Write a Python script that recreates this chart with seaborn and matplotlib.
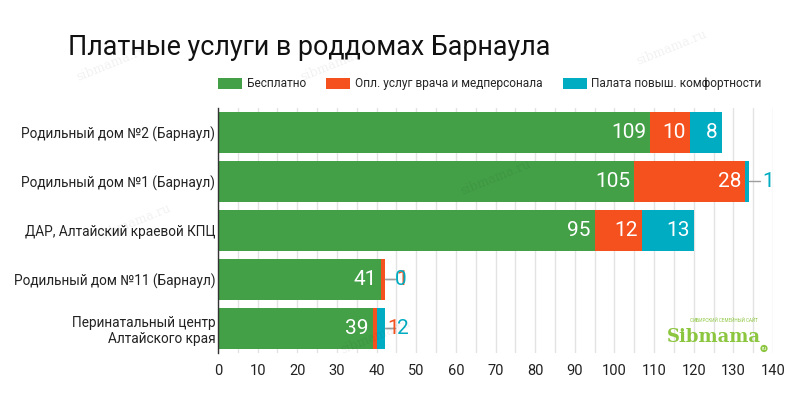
import matplotlib
matplotlib.use("Agg")
import matplotlib.pyplot as plt
from matplotlib.patches import Patch
from matplotlib.ticker import MultipleLocator
import numpy as np
import pandas as pd
import seaborn as sns

CATEGORIES = [
    "Родильный дом №2 (Барнаул)",
    "Родильный дом №1 (Барнаул)",
    "ДАР, Алтайский краевой КПЦ",
    "Родильный дом №11 (Барнаул)",
    "Перинатальный центр\nАлтайского края",
]
FREE = [109, 105, 95, 41, 39]
DOCTOR = [10, 28, 12, 1, 1]
COMFORT = [8, 1, 13, 0, 2]
SERIES = ["Бесплатно", "Опл. услуг врача и медперсонала", "Палата повыш. комфортности"]
COLORS = ["#43a047", "#f4511e", "#00acc1"]

# where the labels of tiny segments sit, in units past the bar end
OUTSIDE_OFFSET = {(1, 2): 3.2, (3, 1): 3.0, (3, 2): 2.6, (4, 1): 0.6, (4, 2): 3.1}

sns.set_theme(style="white")
plt.rcParams["font.family"] = ["Roboto", "DejaVu Sans"]

df = pd.DataFrame({"cat": CATEGORIES, "s0": FREE, "s1": DOCTOR, "s2": COMFORT})
df["c0"] = df["s0"]
df["c1"] = df["c0"] + df["s1"]
df["c2"] = df["c1"] + df["s2"]

fig = plt.figure(figsize=(8, 3.96), dpi=100)
ax = fig.add_axes([0.2725, 0.1086, 0.6938, 0.6187])

for i in [2, 1, 0]:
    sns.barplot(data=df, x=f"c{i}", y="cat", color=COLORS[i], width=0.82,
                saturation=1, ax=ax, zorder=2, linewidth=0)

ax.set_xlim(0, 140)
ax.set_ylim(4.5, -0.5)
ax.xaxis.set_major_locator(MultipleLocator(10))
ax.xaxis.set_minor_locator(MultipleLocator(5))
ax.grid(axis="x", which="both", color="#e3e3e3", linewidth=1, zorder=0)
ax.set_axisbelow(True)
ax.set_xlabel("")
ax.set_ylabel("")
for side in ["top", "right", "bottom"]:
    ax.spines[side].set_visible(False)
ax.spines["left"].set_color("#333333")
ax.spines["left"].set_linewidth(1)
ax.tick_params(axis="x", which="both", length=4, color="#e3e3e3", labelsize=10.5,
               labelcolor="#222222", pad=4)
ax.tick_params(axis="y", length=0, labelsize=9.8, labelcolor="#222222", pad=2)

for r in range(len(CATEGORIES)):
    end = df.loc[r, "c2"]
    for i in range(3):
        val = df.loc[r, f"s{i}"]
        right = df.loc[r, f"c{i}"]
        if (r, i) in OUTSIDE_OFFSET:
            xt = end + OUTSIDE_OFFSET[(r, i)]
            ax.plot([end, end + 2.6], [r, r], color="#9e9e9e", lw=1, zorder=3)
            ax.text(xt, r, str(val), color=COLORS[i], fontsize=15, va="center",
                    ha="left", zorder=4)
        else:
            ax.text(right - 1.0, r, str(val), color="white", fontsize=15,
                    va="center", ha="right", zorder=4)

fig.text(0.085, 0.88, "Платные услуги в роддомах Барнаула", fontsize=19.4,
         color="#111111", va="center", ha="left")

handles = [Patch(facecolor=c, edgecolor="none") for c in COLORS]
fig.legend(handles, SERIES, loc="center left", bbox_to_anchor=(0.2725, 0.788),
           ncol=3, frameon=False, fontsize=8.6, handlelength=2.0, handleheight=1.0,
           handletextpad=0.4, columnspacing=1.7, borderaxespad=0, borderpad=0)

# faint watermarks
for wx, wy in [(0.14, 0.84), (0.42, 0.84), (0.17, 0.44), (0.62, 0.55), (0.47, 0.15),
               (0.84, 0.88)]:
    fig.text(wx, wy, "sibmama.ru", fontsize=9, color="#000000", alpha=0.06,
             rotation=22, family="DejaVu Serif", ha="center", va="center")

# site logo
fig.text(0.833, 0.15, "Sibmama", fontsize=13, fontweight="bold", color="#8cc63f",
         family="DejaVu Serif", ha="left", va="center")
fig.text(0.862, 0.19, "СИБИРСКИЙ СЕМЕЙНЫЙ САЙТ", fontsize=3.3, color="#8cc63f",
         ha="left", va="center")
fig.text(0.955, 0.12, "ru", fontsize=4, color="white", ha="center", va="center",
         bbox=dict(boxstyle="circle,pad=0.2", fc="#8cc63f", ec="none"))

fig.savefig("out.png", dpi=100)
